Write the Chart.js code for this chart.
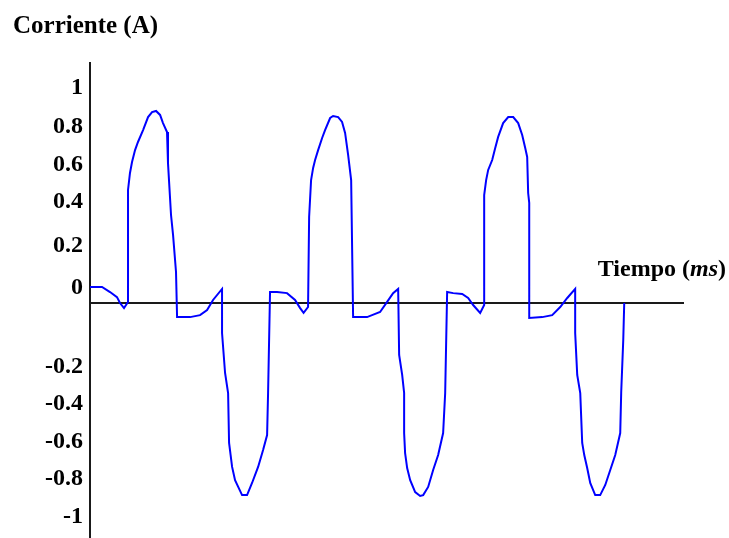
<!DOCTYPE html>
<html lang="es">
<head>
<meta charset="utf-8">
<title>Corriente vs tiempo</title>
<script src="https://cdn.jsdelivr.net/npm/chart.js@4.4.1/dist/chart.umd.min.js"></script>
<style>
  html, body { margin: 0; padding: 0; background: #fff; }
  canvas { display: block; }
</style>
</head>
<body>
<canvas id="grafico" width="729" height="538"></canvas>
<script>
/* -----------------------------------------------------------------
   DATOS — forma de onda de la corriente, tres ciclos
   ----------------------------------------------------------------- */
const TIEMPO_MS = [
  // ciclo 1
  0, 1.35, 2.25, 3.03, 3.37, 3.82, 4.27, 4.27, 4.49, 4.72, 5.06, 5.39, 5.96, 6.52, 6.97, 7.42, 7.87, 8.2, 8.65, 8.76, 9.1, 9.33, 9.66, 9.78,
  11.24, 12.36, 13.15, 13.82, 14.83, 14.83, 15.17, 15.51, 15.62, 15.96, 16.29, 17.08, 17.64, 18.2, 18.88, 19.44, 19.89, 20.0, 20.22, 21.01, 22.13, 23.03, 23.6, 23.99, 24.49,
  // ciclo 2
  24.61, 24.83, 25.06, 25.28, 25.62, 26.07, 26.4, 26.97, 27.3, 27.87, 28.31, 28.65, 28.99, 29.33, 29.55, 31.12, 32.58, 33.37, 34.04, 34.61,
  34.72, 35.06, 35.28, 35.28, 35.39, 35.62, 35.96, 36.52, 37.08, 37.42, 37.98, 38.54, 39.1, 39.66, 39.89, 40.11, 40.79, 41.8, 42.47, 43.03, 43.82, 44.27,
  // ciclo 3
  44.27, 44.49, 44.72, 45.17, 45.51, 45.84, 46.4, 46.97, 47.53, 48.09, 48.54, 48.88, 49.1, 49.21, 49.33, 49.33, 50.79, 51.91, 52.81, 53.6, 54.49,
  54.49, 54.72, 55.06, 55.28, 55.51, 55.84, 56.18, 56.74, 57.3, 57.87, 58.43, 58.99, 59.55, 59.66, 59.89, 60.0,
];

const CORRIENTE_A = [
  // ciclo 1
  0.073, 0.073, 0.05, 0.027, 0, -0.023, 0.005, 0.514, 0.591, 0.641, 0.695, 0.732, 0.786, 0.845, 0.868, 0.873, 0.855, 0.818, 0.777, 0.636, 0.4, 0.309, 0.141, -0.064,
  -0.064, -0.055, -0.032, 0.014, 0.064, -0.136, -0.318, -0.409, -0.636, -0.745, -0.805, -0.873, -0.873, -0.818, -0.745, -0.668, -0.6, -0.409, 0.05, 0.05, 0.045, 0.014, -0.023, -0.045, -0.018,
  // ciclo 2
  0.391, 0.559, 0.614, 0.65, 0.695, 0.75, 0.786, 0.841, 0.85, 0.845, 0.823, 0.773, 0.673, 0.559, -0.064, -0.064, -0.041, 0.005, 0.045, 0.064,
  -0.236, -0.327, -0.409, -0.591, -0.682, -0.75, -0.805, -0.859, -0.877, -0.873, -0.836, -0.759, -0.691, -0.591, -0.409, 0.05, 0.045, 0.041, 0.023, -0.009, -0.045, -0.009,
  // ciclo 3
  0.491, 0.559, 0.605, 0.65, 0.705, 0.755, 0.818, 0.845, 0.845, 0.818, 0.764, 0.705, 0.664, 0.5, 0.455, -0.068, -0.064, -0.055, -0.018, 0.023, 0.064,
  -0.136, -0.327, -0.409, -0.636, -0.691, -0.75, -0.818, -0.873, -0.873, -0.827, -0.759, -0.691, -0.591, -0.405, -0.168, 0,
];

// las etiquetas del eje vertical no caen justo sobre su valor: van separadas del eje horizontal
const TICK_VALORES = [0.98, 0.8, 0.63, 0.46, 0.26, 0.07, -0.29, -0.46, -0.63, -0.8, -0.97];
const TICK_ETIQUETAS = ["1", "0.8", "0.6", "0.4", "0.2", "0", "-0.2", "-0.4", "-0.6", "-0.8", "-1"];

/* -----------------------------------------------------------------
   ESTILO
   ----------------------------------------------------------------- */
const FUENTE = "'Liberation Serif', 'Times New Roman', serif";
const COLORES = { onda: "#0000ff", eje: "#1a1a1a", texto: "#000" };

/* -----------------------------------------------------------------
   RÓTULOS DE LOS EJES — "Corriente (A)" arriba, "Tiempo (ms)" sobre el eje x
   ----------------------------------------------------------------- */
const rotulosEjes = {
  id: "rotulosEjes",
  afterDraw(chart) {
    const { ctx, chartArea, scales } = chart;
    const y0 = scales.y.getPixelForValue(0);
    ctx.save();
    ctx.fillStyle = COLORES.texto;
    ctx.textBaseline = "alphabetic";
    ctx.textAlign = "left";

    ctx.font = `bold 25px ${FUENTE}`;
    ctx.fillText("Corriente (A)", chartArea.left - 77, chartArea.top - 30);

    const partes = [["Tiempo (", "bold"], ["ms", "italic bold"], [")", "bold"]];
    const anchos = partes.map(([txt, estilo]) => {
      ctx.font = `${estilo} 24px ${FUENTE}`;
      return ctx.measureText(txt).width;
    });
    let x = chartArea.right + 43 - anchos.reduce((s, w) => s + w, 0);
    partes.forEach(([txt, estilo], i) => {
      ctx.font = `${estilo} 24px ${FUENTE}`;
      ctx.fillText(txt, x, y0 - 27);
      x += anchos[i];
    });
    ctx.restore();
  },
};

// el eje no reserva margen extra para media etiqueta en sus extremos
function sinRelleno(scale) {
  scale.paddingTop = 0;
  scale.paddingBottom = 0;
  scale.paddingLeft = 0;
  scale.paddingRight = 0;
}

/* -----------------------------------------------------------------
   GRÁFICO
   ----------------------------------------------------------------- */
new Chart(document.getElementById("grafico"), {
  type: "line",
  data: {
    datasets: [{
      label: "Corriente",
      data: TIEMPO_MS.map((t, i) => ({ x: t, y: CORRIENTE_A[i] })),
      borderColor: COLORES.onda,
      borderWidth: 2,
      pointRadius: 0,
      tension: 0,
      fill: false,
    }],
  },
  options: {
    responsive: false,
    animation: false,
    layout: { padding: { top: 63, right: 46, bottom: 0, left: 0 } },
    plugins: { legend: { display: false }, tooltip: { enabled: false } },
    scales: {
      x: {
        type: "linear",
        min: 0,
        max: 66.6,
        position: { y: 0 },
        afterFit: (scale) => { scale.height = 0; sinRelleno(scale); },
        grid: { display: false },
        ticks: { display: false },
        border: { display: true, color: COLORES.eje, width: 2 },
      },
      y: {
        min: -1.068,
        max: 1.091,
        afterFit: (scale) => { scale.width = 90; sinRelleno(scale); },
        afterBuildTicks: (scale) => { scale.ticks = TICK_VALORES.map((v) => ({ value: v })); },
        grid: { display: false, drawTicks: false },
        border: { display: true, color: COLORES.eje, width: 2 },
        ticks: {
          autoSkip: false,
          padding: 7,
          color: COLORES.texto,
          font: { family: FUENTE, size: 24, weight: "bold" },
          callback: (value, index) => TICK_ETIQUETAS[index],
        },
      },
    },
  },
  plugins: [rotulosEjes],
});
</script>
</body>
</html>
